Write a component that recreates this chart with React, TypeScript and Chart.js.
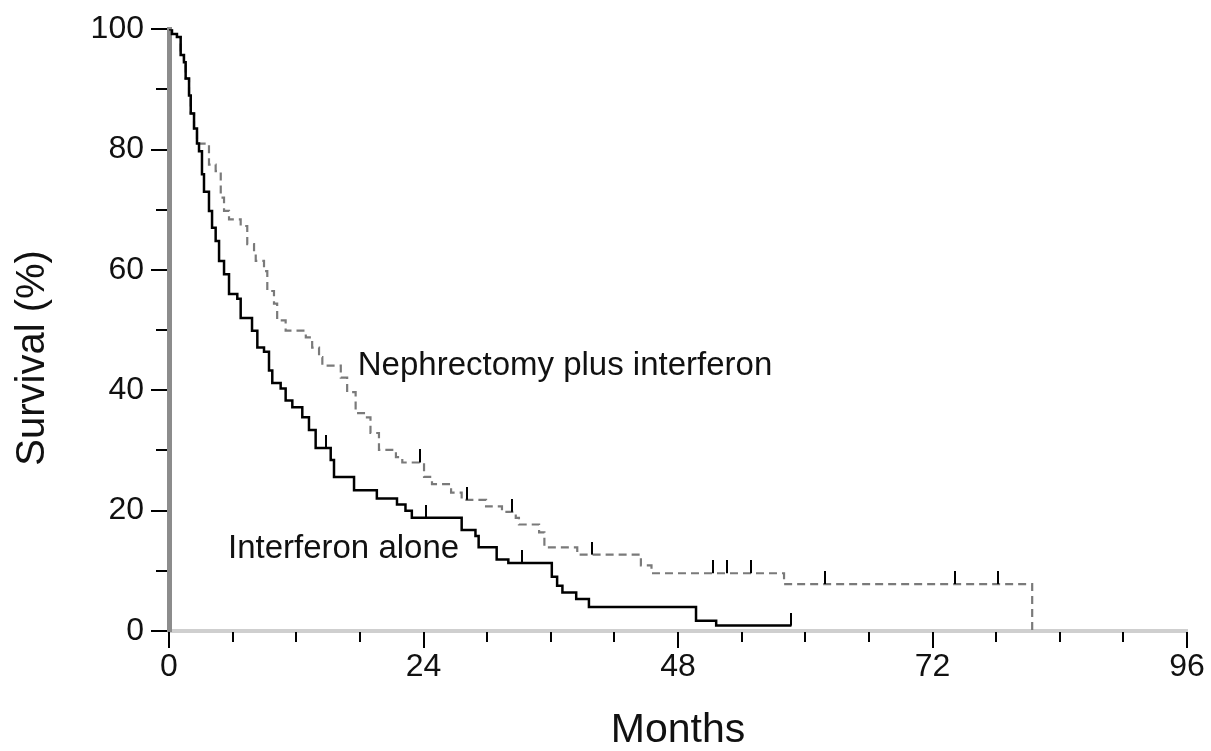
import React, { useEffect, useRef } from 'react';
import { Chart, registerables } from 'chart.js';

Chart.register(...registerables);

const FONT = "'Liberation Sans', Arial, Helvetica, sans-serif";

// Axis tick values
const xMajorTicks = [0, 24, 48, 72, 96];
const xMinorTicks = [6, 12, 18, 30, 36, 42, 54, 60, 66, 78, 84, 90];
const yMajorTicks = [0, 20, 40, 60, 80, 100];
const yMinorTicks = [10, 30, 50, 70, 90];

// Interferon alone (solid)
const ifnMonths = [0, 0.28, 0.75, 1.1, 1.41, 1.57, 1.89, 2.05, 2.36, 2.64, 2.83, 3.11, 3.3, 3.77, 4.06, 4.4, 4.72, 5.19, 5.66, 6.44, 6.76, 7.83, 8.33, 8.96, 9.43, 9.74, 10.53, 11.0, 11.63, 12.57, 13.2, 13.83, 15.25, 15.56, 17.45, 19.6, 21.5, 22.3, 22.9, 27.6, 28.9, 29.2, 30.9, 32.0, 36.1, 36.6, 37.1, 38.4, 39.6, 49.7, 51.6, 58.7];
const ifnSurvival = [100, 99.2, 98.7, 95.7, 94.5, 91.8, 89, 86, 83.5, 81, 79.7, 75.9, 73, 69.8, 67, 64.8, 61.5, 59.3, 56, 55.2, 52, 49.9, 47.1, 46.4, 43.3, 41.2, 40.3, 38.3, 37.2, 35.5, 33.4, 30.4, 28.4, 25.6, 23.4, 22, 21, 20, 18.8, 16.8, 15.8, 13.9, 11.9, 11.3, 9, 7.5, 6.4, 5.3, 4, 1.7, 0.9, 0.9];
const ifnCensorMonths = [14.8, 24.2, 33.3, 58.7];
const ifnCensorSurvival = [30.4, 18.8, 11.3, 0.9];

// Nephrectomy plus interferon (dashed)
const nephMonths = [0, 0.28, 0.75, 1.1, 1.41, 1.57, 1.89, 2.05, 2.36, 2.64, 3.77, 4.4, 4.88, 5.19, 5.66, 6.76, 7.38, 8.02, 8.18, 8.96, 9.27, 9.9, 10.2, 11.0, 12.9, 13.5, 14.15, 14.46, 16.2, 16.8, 17.6, 18.55, 19.0, 19.8, 21.4, 22.0, 24.05, 24.8, 26.6, 27.6, 29.9, 31.4, 32.7, 33.0, 34.9, 35.4, 38.5, 44.5, 45.5, 58.0, 81.4];
const nephSurvival = [100, 99.2, 98.7, 95.7, 94.5, 91.8, 89, 86, 83.5, 81, 77.5, 76.4, 72, 69.8, 68.4, 67.3, 64.3, 63.1, 61.5, 59.8, 56.5, 54.4, 51.6, 49.9, 48.8, 47.1, 45.5, 44.1, 42.1, 39.7, 36.2, 35.5, 32.9, 30.1, 28.9, 28, 25.6, 24.4, 23, 21.8, 20.7, 19.8, 18.8, 17.7, 16.4, 13.9, 12.7, 10.9, 9.6, 7.8, 0];
const nephCensorMonths = [23.7, 28.1, 32.3, 39.9, 51.3, 52.6, 54.9, 61.9, 74.1, 78.2];
const nephCensorSurvival = [28, 21.8, 19.8, 12.7, 9.6, 9.6, 9.6, 7.8, 7.8, 7.8];

const seriesNames = ['Interferon alone', 'Nephrectomy plus interferon'];
const xTitle = 'Months';
const yTitle = 'Survival (%)';

// Label anchors (months, %)
const labelAnchors = [
  { text: seriesNames[1], x: 17.8, y: 44.0 },
  { text: seriesNames[0], x: 5.56, y: 13.7 },
];

const toPoints = (xs: number[], ys: number[]) => xs.map((x, i) => ({ x, y: ys[i] }));

const extrasPlugin = {
  id: 'kmExtras',
  afterDraw(chart: any) {
    const { ctx, chartArea, scales } = chart;
    const x = scales.x;
    const y = scales.y;
    ctx.save();
    ctx.strokeStyle = '#000';
    ctx.lineWidth = 2;
    const drawX = (v: number, len: number) => {
      const px = Math.round(x.getPixelForValue(v));
      ctx.beginPath();
      ctx.moveTo(px, chartArea.bottom + 1);
      ctx.lineTo(px, chartArea.bottom + 1 + len);
      ctx.stroke();
    };
    const drawY = (v: number, len: number) => {
      const py = Math.round(y.getPixelForValue(v));
      ctx.beginPath();
      ctx.moveTo(chartArea.left - 2, py);
      ctx.lineTo(chartArea.left - 2 - len, py);
      ctx.stroke();
    };
    xMajorTicks.forEach((v) => drawX(v, 16));
    xMinorTicks.forEach((v) => drawX(v, 10));
    yMajorTicks.forEach((v) => drawY(v, 16));
    yMinorTicks.forEach((v) => drawY(v, 11));

    ctx.fillStyle = '#111';
    ctx.font = `33px ${FONT}`;
    ctx.textAlign = 'left';
    ctx.textBaseline = 'middle';
    labelAnchors.forEach((a) => {
      ctx.fillText(a.text, x.getPixelForValue(a.x), y.getPixelForValue(a.y));
    });
    ctx.restore();
  },
};

export default function App() {
  const canvasRef = useRef<HTMLCanvasElement | null>(null);

  useEffect(() => {
    document.body.style.margin = '0';
    const canvas = canvasRef.current;
    if (!canvas) return;

    const censorMark = document.createElement('canvas');
    censorMark.width = 2;
    censorMark.height = 26;
    const cctx = censorMark.getContext('2d');
    if (cctx) {
      cctx.fillStyle = '#000';
      cctx.fillRect(0, 0, 2, 13);
    }

    const chart = new Chart(canvas, {
      type: 'line',
      data: {
        datasets: [
          {
            label: seriesNames[0],
            data: toPoints(ifnMonths, ifnSurvival),
            borderColor: '#000',
            borderWidth: 2.5,
            stepped: true,
            pointRadius: 0,
            fill: false,
            order: 0,
          },
          {
            label: seriesNames[0] + ' censored',
            type: 'scatter',
            data: toPoints(ifnCensorMonths, ifnCensorSurvival),
            pointStyle: censorMark,
            pointRadius: 6,
            showLine: false,
            order: 1,
          },
          {
            label: seriesNames[1],
            data: toPoints(nephMonths, nephSurvival),
            borderColor: '#7a7a7a',
            borderWidth: 2.2,
            borderDash: [8, 5],
            stepped: true,
            pointRadius: 0,
            fill: false,
            order: 2,
          },
          {
            label: seriesNames[1] + ' censored',
            type: 'scatter',
            data: toPoints(nephCensorMonths, nephCensorSurvival),
            pointStyle: censorMark,
            pointRadius: 6,
            showLine: false,
            order: 1,
          },
        ] as any,
      },
      options: {
        responsive: false,
        devicePixelRatio: 1,
        animation: false,
        layout: { padding: { top: 26, right: 24, left: 0, bottom: 0 } },
        plugins: {
          legend: { display: false },
          tooltip: { enabled: false },
        },
        scales: {
          x: {
            type: 'linear',
            min: 0,
            max: 96,
            afterFit: (s: any) => {
              s.height = 120;
            },
            afterBuildTicks: (s: any) => {
              s.ticks = xMajorTicks.map((v) => ({ value: v }));
            },
            ticks: {
              color: '#111',
              font: { family: FONT, size: 32 },
              padding: 2,
              maxRotation: 0,
              autoSkip: false,
            },
            grid: { display: false, drawTicks: true, tickLength: 15 },
            border: { display: true, color: '#cfcfcf', width: 4 },
            title: {
              display: true,
              text: xTitle,
              color: '#111',
              font: { family: FONT, size: 41, lineHeight: 1 },
              padding: { top: 0, bottom: 0 },
            },
          },
          y: {
            type: 'linear',
            min: 0,
            max: 100,
            afterFit: (s: any) => {
              s.width = 169;
            },
            afterBuildTicks: (s: any) => {
              s.ticks = yMajorTicks.map((v) => ({ value: v }));
            },
            ticks: {
              color: '#111',
              font: { family: FONT, size: 32 },
              padding: 10,
              autoSkip: false,
            },
            grid: { display: false, drawTicks: true, tickLength: 15 },
            border: { display: true, color: '#8c8c8c', width: 5 },
            title: {
              display: true,
              text: yTitle + '     ',
              color: '#111',
              font: { family: FONT, size: 40, lineHeight: 1.2 },
              padding: { top: 9, bottom: 0 },
            },
          },
        },
      },
      plugins: [extrasPlugin],
    });

    return () => {
      chart.destroy();
    };
  }, []);

  return (
    <div style={{ width: 1211, height: 751 }}>
      <canvas ref={canvasRef} width={1211} height={751} style={{ display: 'block' }} />
    </div>
  );
}
